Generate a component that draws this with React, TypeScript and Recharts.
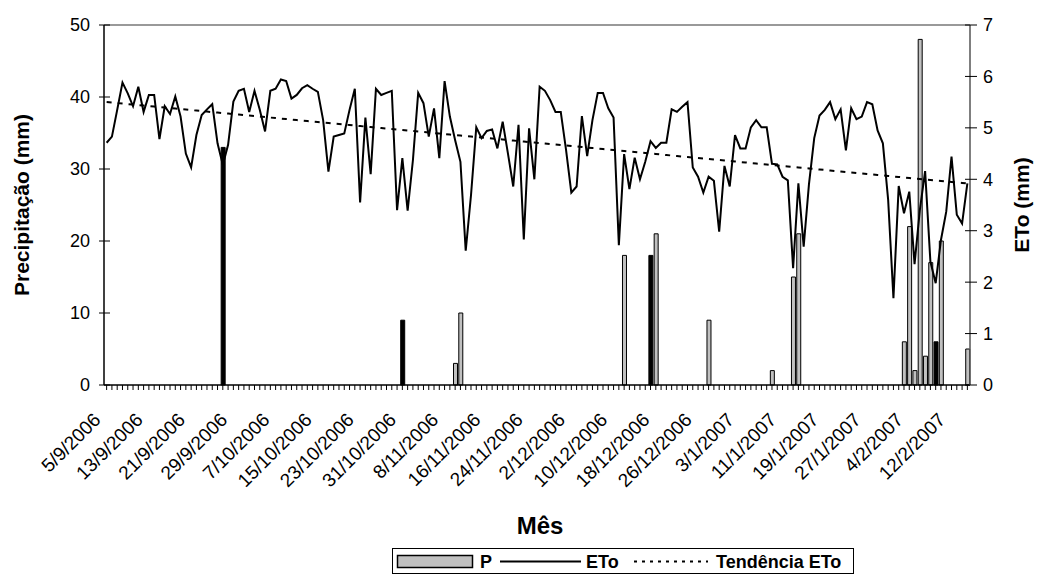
import React from 'react';
import { ComposedChart, Bar, Line, XAxis, YAxis, ReferenceLine, Legend, Label, Cell } from 'recharts';

const FONT = '"Liberation Sans", Arial, sans-serif';

// daily categories, 5/9/2006 .. 15/2/2007
const firstDay = [2006, 8, 5];
const dayCount = 164;
const dates = Array.from({ length: dayCount }, (_, i) => {
  const d = new Date(firstDay[0], firstDay[1], firstDay[2] + i);
  return `${d.getDate()}/${d.getMonth() + 1}/${d.getFullYear()}`;
});

// precipitation (mm), only days with rain
const rainDates = [
  '27/9/2006', '31/10/2006', '10/11/2006', '11/11/2006', '12/12/2006', '17/12/2006', '18/12/2006',
  '28/12/2006', '9/1/2007', '13/1/2007', '14/1/2007', '3/2/2007', '4/2/2007', '5/2/2007',
  '6/2/2007', '7/2/2007', '8/2/2007', '9/2/2007', '10/2/2007', '15/2/2007',
];
const rainMm = [33, 9, 3, 10, 18, 18, 21, 9, 2, 15, 21, 6, 22, 2, 48, 4, 17, 6, 20, 5];
// bars that print as solid black in the original
const darkBars = ['27/9/2006', '31/10/2006', '17/12/2006', '9/2/2007'];

// reference evapotranspiration (mm/day)
const eto = [
  4.71, 4.83, 5.35, 5.88, 5.67, 5.42, 5.80, 5.31, 5.64, 5.64,
  4.78, 5.42, 5.27, 5.61, 5.22, 4.50, 4.23, 4.86, 5.25, 5.36,
  5.46, 4.70, 4.28, 4.67, 5.51, 5.72, 5.76, 5.31, 5.72, 5.35,
  4.93, 5.72, 5.76, 5.94, 5.91, 5.57, 5.64, 5.77, 5.83, 5.76,
  5.70, 5.15, 4.15, 4.83, 4.86, 4.89, 5.35, 5.76, 3.55, 5.20,
  4.10, 5.76, 5.64, 5.68, 5.72, 3.40, 4.41, 3.39, 4.37, 5.68,
  5.48, 4.83, 5.38, 4.41, 5.91, 5.22, 4.76, 4.34, 2.61, 3.69,
  5.01, 4.80, 4.94, 4.97, 4.60, 5.12, 4.50, 3.86, 5.06, 2.83,
  4.99, 4.00, 5.80, 5.72, 5.54, 5.31, 5.31, 4.57, 3.74, 3.86,
  5.23, 4.45, 5.15, 5.68, 5.68, 5.38, 5.20, 2.72, 4.49, 3.81,
  4.42, 4.00, 4.34, 4.74, 4.61, 4.71, 4.71, 5.36, 5.31, 5.41,
  5.50, 4.23, 4.05, 3.74, 4.05, 3.97, 2.98, 4.26, 3.86, 4.86,
  4.60, 4.60, 5.01, 5.15, 5.01, 5.01, 4.30, 4.29, 4.05, 3.98,
  2.27, 3.92, 2.69, 3.90, 4.80, 5.24, 5.35, 5.50, 5.17, 5.36,
  4.56, 5.38, 5.17, 5.22, 5.50, 5.46, 4.95, 4.70, 3.60, 1.69,
  3.87, 3.34, 3.76, 2.35, 3.40, 4.16, 2.40, 1.98, 2.82, 3.37,
  4.44, 3.31, 3.14, 3.92,
];

const pTicks = [0, 10, 20, 30, 40, 50];
const etoTicks = [0, 1, 2, 3, 4, 5, 6, 7];

// least-squares linear trend of ETo (as the spreadsheet trendline)
const n = eto.length;
const meanX = (n - 1) / 2;
const meanY = eto.reduce((s, v) => s + v, 0) / n;
let sxy = 0;
let sxx = 0;
eto.forEach((v, i) => {
  sxy += (i - meanX) * (v - meanY);
  sxx += (i - meanX) * (i - meanX);
});
const slope = sxy / sxx;
const intercept = meanY - slope * meanX;

const data = dates.map((date, i) => {
  const r = rainDates.indexOf(date);
  return {
    date,
    p: r >= 0 ? rainMm[r] : null,
    eto: eto[i],
    trend: intercept + slope * i,
  };
});

const XTick = (props: any) => {
  const { x, y, payload, index } = props;
  const axisY = y - 8;
  const i = index ?? payload.index;
  const tx = x - 5;
  const ty = axisY + 36;
  return (
    <g>
      <line x1={x} y1={axisY} x2={x} y2={axisY + 5} stroke="#000" strokeWidth={1} />
      {i % 8 === 0 && (
        <text x={tx} y={ty} transform={`rotate(-45, ${tx}, ${ty})`} textAnchor="end"
          fontSize={19} fontFamily={FONT} fill="#000">{payload.value}</text>
      )}
    </g>
  );
};

const LeftTick = (props: any) => {
  const { x, y, payload } = props;
  const ax = x + 8;
  return (
    <g>
      <line x1={ax - 5} y1={y} x2={ax + 6} y2={y} stroke="#000" />
      <text x={ax - 14} y={y} dy="0.36em" textAnchor="end" fontSize={18} fontFamily={FONT} fill="#000">{payload.value}</text>
    </g>
  );
};

const RightTick = (props: any) => {
  const { x, y, payload } = props;
  const ax = x - 8;
  return (
    <g>
      <line x1={ax - 5} y1={y} x2={ax + 7} y2={y} stroke="#000" />
      <text x={ax + 13} y={y} dy="0.36em" textAnchor="start" fontSize={18} fontFamily={FONT} fill="#000">{payload.value}</text>
    </g>
  );
};

const LegendBox = () => (
  <svg width={462} height={26} style={{ display: 'block' }}>
    <rect x={0.5} y={0.5} width={461} height={25} fill="#fff" stroke="#000" />
    <rect x={5.5} y={7.5} width={75} height={12} fill="#c0c0c0" stroke="#000" strokeWidth={1.5} />
    <text x={88} y={20} fontSize={18} fontWeight="bold" fontFamily={FONT}>P</text>
    <line x1={108} y1={13.5} x2={189} y2={13.5} stroke="#000" strokeWidth={2} />
    <text x={194} y={20} fontSize={18} fontWeight="bold" fontFamily={FONT}>ETo</text>
    <line x1={242} y1={13.5} x2={316} y2={13.5} stroke="#000" strokeWidth={2} strokeDasharray="3 5" />
    <text x={324} y={20} fontSize={18} fontWeight="bold" fontFamily={FONT}>Tendência ETo</text>
  </svg>
);

export default function App() {
  return (
    <div style={{ position: 'absolute', left: 0, top: 0, width: 1040, height: 586, background: '#fff' }}>
      <ComposedChart width={1040} height={586} data={data}
        margin={{ top: 25, right: 10, bottom: 25, left: 44 }} barCategoryGap={1}>
        <XAxis dataKey="date" interval={0} tickLine={false} tick={<XTick />} height={150}
          axisLine={{ stroke: '#000', strokeWidth: 1.5 }}>
          <Label content={() => (
            <text x={540} y={534} textAnchor="middle" fontSize={24} fontWeight="bold" fontFamily={FONT}>Mês</text>
          )} />
        </XAxis>
        <YAxis yAxisId="p" orientation="left" domain={[0, 50]} ticks={pTicks} width={60}
          tickLine={false} tick={<LeftTick />} axisLine={{ stroke: '#000', strokeWidth: 1.5 }}>
          <Label content={() => (
            <text x={29} y={205} transform="rotate(-90, 29, 205)" textAnchor="middle" fontSize={21}
              fontWeight="bold" fontFamily={FONT}>Precipitação (mm)</text>
          )} />
        </YAxis>
        <YAxis yAxisId="eto" orientation="right" domain={[0, 7]} ticks={etoTicks} width={60}
          tickLine={false} tick={<RightTick />} axisLine={{ stroke: '#555', strokeWidth: 1.5 }}>
          <Label content={() => (
            <text x={1029} y={205} transform="rotate(-90, 1029, 205)" textAnchor="middle" fontSize={21}
              fontWeight="bold" fontFamily={FONT}>ETo (mm)</text>
          )} />
        </YAxis>
        <ReferenceLine yAxisId="p" y={50} stroke="#777" strokeWidth={1.5} />
        <Legend verticalAlign="bottom" content={() => <LegendBox />}
          wrapperStyle={{ position: 'absolute', left: 392, top: 548, width: 462, height: 26 }} />
        <Bar yAxisId="p" dataKey="p" name="P" fill="#c0c0c0" stroke="#000" strokeWidth={1}
          barSize={4} isAnimationActive={false}>
          {data.map((d) => (
            <Cell key={d.date} fill={darkBars.includes(d.date) ? '#000' : '#c0c0c0'} />
          ))}
        </Bar>
        <Line yAxisId="eto" dataKey="eto" name="ETo" type="linear" stroke="#000" strokeWidth={2}
          dot={false} activeDot={false} isAnimationActive={false} />
        <Line yAxisId="eto" dataKey="trend" name="Tendência ETo" type="linear" stroke="#000" strokeWidth={2}
          strokeDasharray="5 6" dot={false} activeDot={false} isAnimationActive={false} />
      </ComposedChart>
    </div>
  );
}
